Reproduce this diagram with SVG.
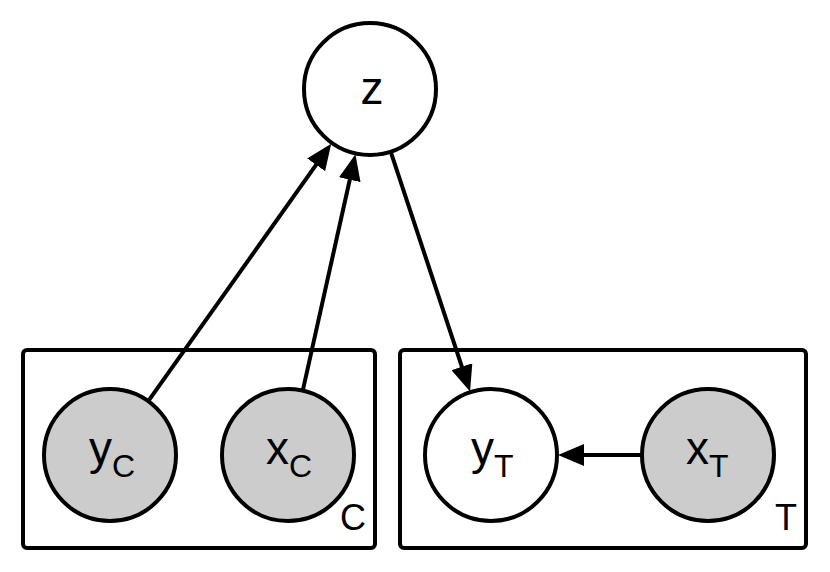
<svg xmlns="http://www.w3.org/2000/svg" width="830" height="572" viewBox="0 0 830 572">
<style>
.plate{fill:#fff;stroke:#000;stroke-width:4}
.node{stroke:#000;stroke-width:4}
.obs{fill:#cccccc}
.lat{fill:#ffffff}
.edge{stroke:#000;stroke-width:4;fill:none;marker-end:url(#ah)}
text{font-family:"Liberation Sans",Arial,sans-serif;fill:#000}
</style>
<defs>
<marker id="ah" viewBox="0 0 26 22" refX="2" refY="11" markerWidth="26" markerHeight="22" markerUnits="userSpaceOnUse" orient="auto">
<path d="M0,0 L26,11 L0,22 z" fill="#000"/>
</marker>
</defs>
<g id="plate-C">
<rect class="plate" x="23" y="350" width="352" height="198" rx="4"/>
<text font-size="36" x="340" y="530">C</text>
</g>
<g id="plate-T">
<rect class="plate" x="400" y="350" width="406" height="198" rx="4"/>
<text font-size="36" x="775" y="530">T</text>
</g>
<g id="z">
<circle class="node lat" cx="370" cy="89" r="66"/>
<text font-size="46" x="372" y="104" text-anchor="middle">z</text>
</g>
<g id="yC">
<circle class="node obs" cx="110" cy="455" r="66"/>
<text font-size="46" x="89" y="464">y<tspan font-size="32" dy="13">C</tspan></text>
</g>
<g id="xC">
<circle class="node obs" cx="288" cy="455" r="66"/>
<text font-size="46" x="266" y="464">x<tspan font-size="32" dy="13">C</tspan></text>
</g>
<g id="yT">
<circle class="node lat" cx="491" cy="455" r="66"/>
<text font-size="46" x="471" y="464">y<tspan font-size="32" dy="13">T</tspan></text>
</g>
<g id="xT">
<circle class="node obs" cx="708" cy="455" r="66"/>
<text font-size="46" x="686" y="464">x<tspan font-size="32" dy="13">T</tspan></text>
</g>
<g id="connectors">
<line class="edge" x1="148.8" y1="400.4" x2="317.3" y2="163.2"/>
<line class="edge" x1="303" y1="389.6" x2="350.2" y2="177.8"/>
<line class="edge" x1="391" y1="152.6" x2="462.5" y2="368.6"/>
<line class="edge" x1="641" y1="455" x2="582" y2="455"/>
</g>
</svg>
